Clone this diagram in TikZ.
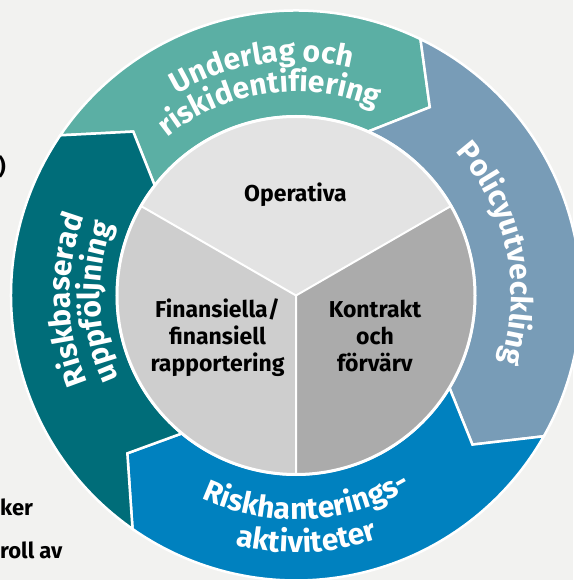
\documentclass[tikz,border=0pt]{standalone}
\usepackage{fontspec}
\setmainfont{Fira Sans}
\usetikzlibrary{decorations.text}
\definecolor{bg}{HTML}{F2F2F0}
\definecolor{cUnder}{HTML}{5BAFA4}
\definecolor{cRisk}{HTML}{006D79}
\definecolor{cPol}{HTML}{789CB7}
\definecolor{cHant}{HTML}{0081BF}
\definecolor{cOp}{HTML}{E3E3E3}
\definecolor{cFin}{HTML}{CECECE}
\definecolor{cKon}{HTML}{ABABAB}
\begin{document}
\begin{tikzpicture}[x=1pt,y=1pt,
  seg/.style={draw=white, line width=2.5pt, line join=miter},
  ringtext/.style={decorate, decoration={text along path, text align=center,
      text={|\bfseries\fontsize{30}{34}\selectfont\color{white}|#1}}},
  innertext/.style={font=\bfseries\fontsize{23}{27}\selectfont, text=black, anchor=base, inner sep=0pt},
  cuttext/.style={font=\bfseries\fontsize{22}{26}\selectfont, text=black, inner sep=0pt},
]
\fill[bg] (-296,-284.5) rectangle (277,295.5);
\useasboundingbox (-296,-284.5) rectangle (277,295.5);

% ring segments
\path[seg, fill=cUnder] (145.8:285) arc[start angle=145.8, end angle=64.1, radius=285]
  -- (54.6:231) -- (66.3:179) arc[start angle=66.3, end angle=142.1, radius=179]
  -- (134.8:231) -- cycle;
\path[seg, fill=cPol] (64.1:285) arc[start angle=64.1, end angle=-29.6, radius=285]
  -- (-40.2:231) -- (-31:179) arc[start angle=-31, end angle=66.3, radius=179]
  -- (54.6:231) -- cycle;
\path[seg, fill=cHant] (-29.6:285) arc[start angle=-29.6, end angle=-125, radius=285]
  -- (-136.9:231) -- (-129.6:179) arc[start angle=-129.6, end angle=-31, radius=179]
  -- (-40.2:231) -- cycle;
\path[seg, fill=cRisk] (235:285) arc[start angle=235, end angle=145.8, radius=285]
  -- (134.8:231) -- (142.1:179) arc[start angle=142.1, end angle=230.4, radius=179]
  -- (223.1:231) -- cycle;

% inner disk
\fill[cOp] (0,0) -- (30:179) arc[start angle=30, end angle=150, radius=179] -- cycle;
\fill[cFin] (0,0) -- (150:179) arc[start angle=150, end angle=270, radius=179] -- cycle;
\fill[cKon] (0,0) -- (270:179) arc[start angle=270, end angle=390, radius=179] -- cycle;
\draw[white, line width=2pt] (0,0) -- (30:179) (0,0) -- (150:179) (0,0) -- (270:179);
\draw[white, line width=3pt] (0,0) circle[radius=179];

% ring texts
\path[ringtext={Underlag och}] (158.5:234) arc[start angle=158.5, end angle=38.5, radius=234];
\path[ringtext={riskidentifiering}] (158:204) arc[start angle=158, end angle=38, radius=204];
\path[ringtext={Policyutveckling}] (72:215) arc[start angle=72, end angle=-48, radius=215];
\path[ringtext={Riskhanterings-}] (-147:224) arc[start angle=-147, end angle=-27, radius=224];
\path[ringtext={aktiviteter}] (-147.5:257) arc[start angle=-147.5, end angle=-27.5, radius=257];
\path[ringtext={Riskbaserad}] (241:226) arc[start angle=241, end angle=121, radius=226];
\path[ringtext={uppföljning}] (242:196) arc[start angle=242, end angle=122, radius=196];

% inner texts
\node[innertext] (op) at (-0.5,93.5) {Operativa};
\node[innertext] (fin1) at (-78.5,-22.5) {Finansiella/};
\node[innertext] (fin2) at (-78.5,-49.5) {finansiell};
\node[innertext] (fin3) at (-78.5,-76.5) {rapportering};
\node[innertext] (kon1) at (79,-22.5) {Kontrakt};
\node[innertext] (kon2) at (79,-49.5) {och};
\node[innertext] (kon3) at (79,-76.5) {förvärv};

% cut-off texts at the left edge
\node[cuttext, anchor=base east] (paren) at (-290,120.5) {)};
\node[cuttext, anchor=base west] (ker) at (-296,-219.5) {ker};
\node[cuttext, anchor=base west] (rollav) at (-296,-262.5) {roll av};
\end{tikzpicture}
\end{document}
